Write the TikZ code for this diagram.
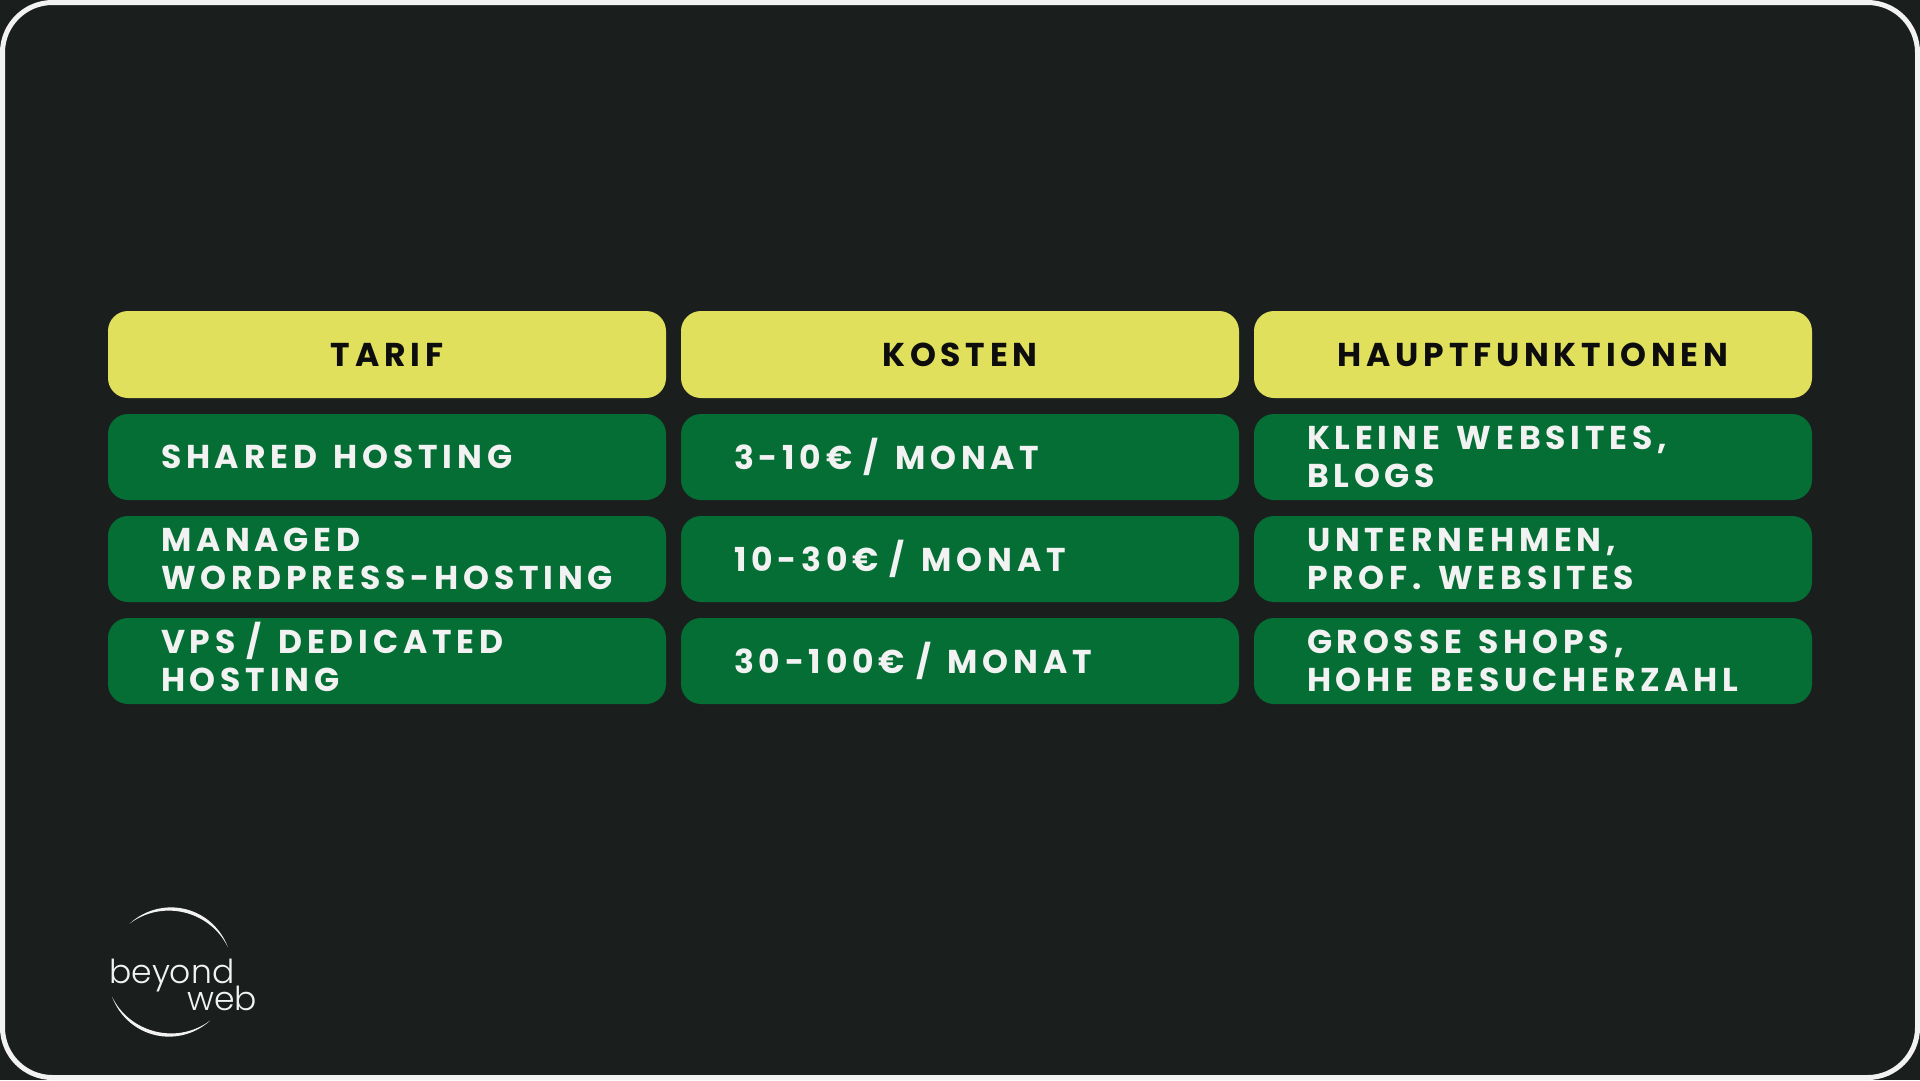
\documentclass[tikz,border=0pt]{standalone}
\usepackage{fontspec}
\newfontfamily\cellfont[LetterSpace=14.5]{Poppins}
\newfontfamily\logofont{Poppins Light}
\definecolor{bgdark}{HTML}{1A1F1E}
\definecolor{hdryellow}{HTML}{E1E05C}
\definecolor{cellgreen}{HTML}{046E34}
\definecolor{lighttext}{HTML}{F2F2F2}
\definecolor{darktext}{HTML}{0D0D0D}
\newcommand{\slashmark}{\smash{/}}
\newcommand{\xg}{\hspace{.18em}}
\tikzset{
  x=1pt,y=-1pt,
  hdr/.style={fill=hdryellow,rounded corners=20pt,minimum width=558pt,minimum height=87pt,inner sep=0pt,anchor=center,text=darktext,font=\cellfont\bfseries\fontsize{33}{38}\selectfont},
  cell/.style={fill=cellgreen,rounded corners=20pt,minimum width=558pt,minimum height=86pt,inner sep=0pt,anchor=center,text=lighttext,text width=452pt,align=left,font=\cellfont\bfseries\fontsize{33}{38}\selectfont},
  logotxt/.style={text=lighttext,inner sep=0pt,anchor=base west},
}
\newcommand{\crescent}[3]{% start, end, peak thickness
  \fill[lighttext] plot[domain=0:1,samples=50,variable=\t] ({170+(63+#3*sin(180*\t)/2)*cos(#1+(#2-#1)*\t)},{972-(63+#3*sin(180*\t)/2)*sin(#1+(#2-#1)*\t)}) --
    plot[domain=1:0,samples=50,variable=\t] ({170+(63-#3*sin(180*\t)/2)*cos(#1+(#2-#1)*\t)},{972-(63-#3*sin(180*\t)/2)*sin(#1+(#2-#1)*\t)}) -- cycle;
}
\begin{document}
\begin{tikzpicture}
\useasboundingbox (0,0) rectangle (1920,1080);
\fill[bgdark] (0,0) rectangle (1920,1080);
\draw[lighttext,line width=5pt,rounded corners=50pt] (2.5,2.5) rectangle (1917.5,1077.5);
\node[hdr] (h1) at (387,354.5) {TARIF};
\node[hdr] (h2) at (960,354.5) {KOSTEN};
\node[hdr] (h3) at (1533,354.5) {HAUPTFUNKTIONEN};
\node[cell] (a1) at (387,457) {SHARED \xg{}HOSTING};
\node[cell] (b1) at (960,457) {3-10€ \slashmark{} \xg{}MONAT};
\node[cell] (c1) at (1533,457) {KLEINE \xg{}WEBSITES,\\BLOGS};
\node[cell] (a2) at (387,559) {MANAGED\\WORDPRESS-HOSTING};
\node[cell] (b2) at (960,559) {10-30€ \slashmark{} \xg{}MONAT};
\node[cell] (c2) at (1533,559) {UNTERNEHMEN,\\PROF. \xg{}WEBSITES};
\node[cell] (a3) at (387,661) {VPS \slashmark{} \xg{}DEDICATED\\HOSTING};
\node[cell] (b3) at (960,661) {30-100€ \slashmark{} \xg{}MONAT};
\node[cell] (c3) at (1533,661) {GROSSE \xg{}SHOPS,\\HOHE \xg{}BESUCHERZAHL};
\crescent{23}{130}{3.5}
\crescent{203}{310}{3.5}
\node[logotxt,font=\logofont\fontsize{33}{33}\selectfont] (l1) at (109,983) {beyond};
\node[logotxt,font=\logofont\fontsize{33}{33}\selectfont] (l2) at (187,1010) {web};
\end{tikzpicture}
\end{document}
